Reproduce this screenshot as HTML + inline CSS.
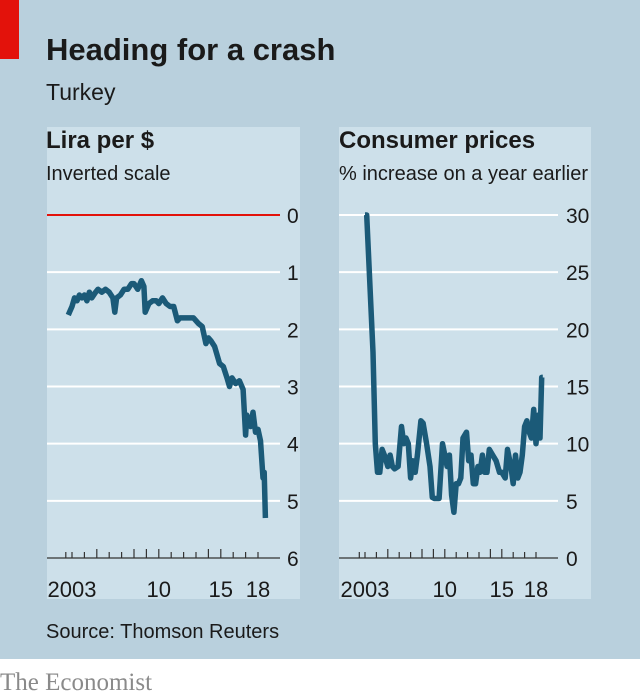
<!DOCTYPE html>
<html><head><meta charset="utf-8"><style>
html,body{margin:0;padding:0;background:#fff}
svg{display:block}
text{font-family:"Liberation Sans Narrow","Liberation Sans",sans-serif;fill:#1a1a1a}
</style></head><body>
<svg id="chart" width="640" height="697" viewBox="0 0 640 697" xmlns="http://www.w3.org/2000/svg">
<rect x="0" y="0" width="640" height="659" fill="#b9d0dd"/>
<rect x="0" y="0" width="19" height="59" fill="#e3120b"/>
<text x="46" y="60" font-size="31" font-weight="bold">Heading for a crash</text>
<text x="46" y="100" font-size="23">Turkey</text>
<rect x="47" y="127" width="253" height="472" fill="#cde0ea"/>
<rect x="339" y="127" width="252" height="472" fill="#cde0ea"/>
<text x="46" y="148" font-size="24" font-weight="bold">Lira per $</text>
<text x="46" y="180" font-size="20">Inverted scale</text>
<text x="339" y="148" font-size="24" font-weight="bold">Consumer prices</text>
<text x="339" y="180" font-size="20">% increase on a year earlier</text>
<g id="left"></g><g id="right"></g>
<text x="46" y="638" font-size="20">Source: Thomson Reuters</text>
<text x="0" y="690" font-size="25" style="font-family:'Liberation Serif',serif;fill:#8a8a8a">The Economist</text>
</svg>
<script>
const liraYears=[2002.7,2002.8,2003.0,2003.2,2003.4,2003.6,2003.8,2004.0,2004.2,2004.4,2004.6,2004.9,2005.1,2005.4,2005.7,2006.0,2006.3,2006.45,2006.6,2006.9,2007.2,2007.5,2007.8,2008.0,2008.3,2008.6,2008.8,2008.9,2009.2,2009.5,2009.8,2010.0,2010.3,2010.6,2010.9,2011.2,2011.5,2011.7,2012.0,2012.4,2012.8,2013.2,2013.5,2013.8,2014.0,2014.2,2014.5,2014.9,2015.2,2015.5,2015.7,2015.9,2016.2,2016.5,2016.8,2017.0,2017.1,2017.4,2017.6,2017.8,2018.0,2018.2,2018.4,2018.5,2018.6];
const liraValues=[1.75,1.7,1.6,1.45,1.5,1.4,1.45,1.4,1.5,1.35,1.45,1.35,1.3,1.35,1.3,1.35,1.45,1.7,1.45,1.4,1.3,1.3,1.2,1.2,1.3,1.15,1.25,1.7,1.55,1.5,1.5,1.55,1.45,1.55,1.6,1.6,1.85,1.8,1.8,1.8,1.8,1.9,1.95,2.25,2.15,2.2,2.3,2.6,2.65,2.85,3.0,2.85,2.95,2.9,3.05,3.85,3.5,3.7,3.45,3.8,3.75,3.95,4.6,4.5,5.3];
const liraTicks=[0,1,2,3,4,5,6];
const cpiYears=[2003.0,2003.15,2003.7,2003.9,2004.1,2004.3,2004.5,2004.7,2005.0,2005.2,2005.4,2005.6,2005.9,2006.2,2006.4,2006.6,2006.8,2007.0,2007.2,2007.4,2007.6,2007.9,2008.1,2008.4,2008.7,2008.9,2009.1,2009.5,2009.8,2010.0,2010.2,2010.4,2010.6,2010.8,2011.0,2011.2,2011.4,2011.6,2011.9,2012.1,2012.3,2012.5,2012.7,2012.9,2013.1,2013.3,2013.5,2013.7,2013.9,2014.2,2014.5,2014.8,2015.0,2015.3,2015.5,2015.8,2016.0,2016.2,2016.4,2016.6,2016.8,2017.0,2017.2,2017.4,2017.6,2017.8,2018.0,2018.2,2018.35,2018.5,2018.6];
const cpiValues=[30,30,18,10,7.5,7.5,9.5,9,8,9,8,7.8,8,11.5,10,10.5,10,7,8.5,7.5,9,12,11.8,10,8,5.3,5.2,5.2,10,9,8,9,5.5,4,6.5,6.5,7,10.5,11,8.5,9,6.5,6.5,8,7.5,9,7.5,7.5,9.5,9,8.5,7.5,7.5,7,9.5,8,6.5,9,7,7.5,9,11.5,12,11,10.5,13,10,12.5,10.5,15.8,15.8];
const cpiTicks=[0,5,10,15,20,25,30];
const yearLabels=["2003","10","15","18"];
const yearLabelPos=[2003,2010,2015,2018];
const tickYears=[2002.5,2003,2004,2005,2006,2007,2008,2009,2010,2011,2012,2013,2014,2015,2016,2017,2018];
const NS="http://www.w3.org/2000/svg";
function mk(tag,attrs,parent){const e=document.createElementNS(NS,tag);for(const k in attrs)e.setAttribute(k,attrs[k]);parent.appendChild(e);return e;}
function draw(gid,cfg){
  const g=document.getElementById(gid);
  const xs=y=>cfg.x0+(y-2003)*cfg.xk;
  const ys=v=>cfg.yTop+(v-cfg.vTop)/(cfg.vBot-cfg.vTop)*(cfg.yBot-cfg.yTop);
  cfg.ticks.forEach(t=>{
    const yy=ys(t);
    if(t!==cfg.axisVal){
      const l=mk('line',{x1:cfg.gx1,x2:cfg.gx2,y1:yy,y2:yy,stroke:(t===cfg.redVal?'#e3120b':'#ffffff'),'stroke-width':2},g);
      
      
    }
    const tx=mk('text',{x:cfg.lx,y:yy+8,'font-size':21},g);
    tx.textContent=t;
    
    
  });
  const ax=mk('line',{x1:cfg.gx1,x2:cfg.gx2,y1:cfg.yBot,y2:cfg.yBot,stroke:'#333','stroke-width':1.3},g);
  
  
  tickYears.forEach(y=>{
    const big=[2005,2008,2009,2010,2014,2015].includes(y);
    const t=mk('line',{x1:xs(y),x2:xs(y),y1:cfg.yBot,y2:cfg.yBot-(big?9:6),stroke:'#333','stroke-width':1.2},g);
    
    
  });
  yearLabels.forEach((s,i)=>{
    const t=mk('text',{x:xs(yearLabelPos[i]),y:cfg.yBot+39,'font-size':22,'text-anchor':'middle'},g);
    t.textContent=s;
    
    
  });
  const d=cfg.xv.map((y,i)=>(i?'L':'M')+xs(y).toFixed(1)+','+ys(cfg.vv[i]).toFixed(1)).join('');
  const p=mk('path',{d:d,fill:'none',stroke:'#1b5a78','stroke-width':5.5,'stroke-linejoin':'round'},g);
  
  
}
draw('left',{x0:72,xk:12.4,yTop:215,yBot:558,vTop:0,vBot:6,ticks:liraTicks,axisVal:6,redVal:0,gx1:47,gx2:280,lx:287,xv:liraYears,vv:liraValues,name:'lira-line'});
draw('right',{x0:365,xk:11.4,yTop:215,yBot:558,vTop:30,vBot:0,ticks:cpiTicks,axisVal:0,redVal:null,gx1:339,gx2:558,lx:566,xv:cpiYears,vv:cpiValues,name:'cpi-line'});
</script>
</body></html>
